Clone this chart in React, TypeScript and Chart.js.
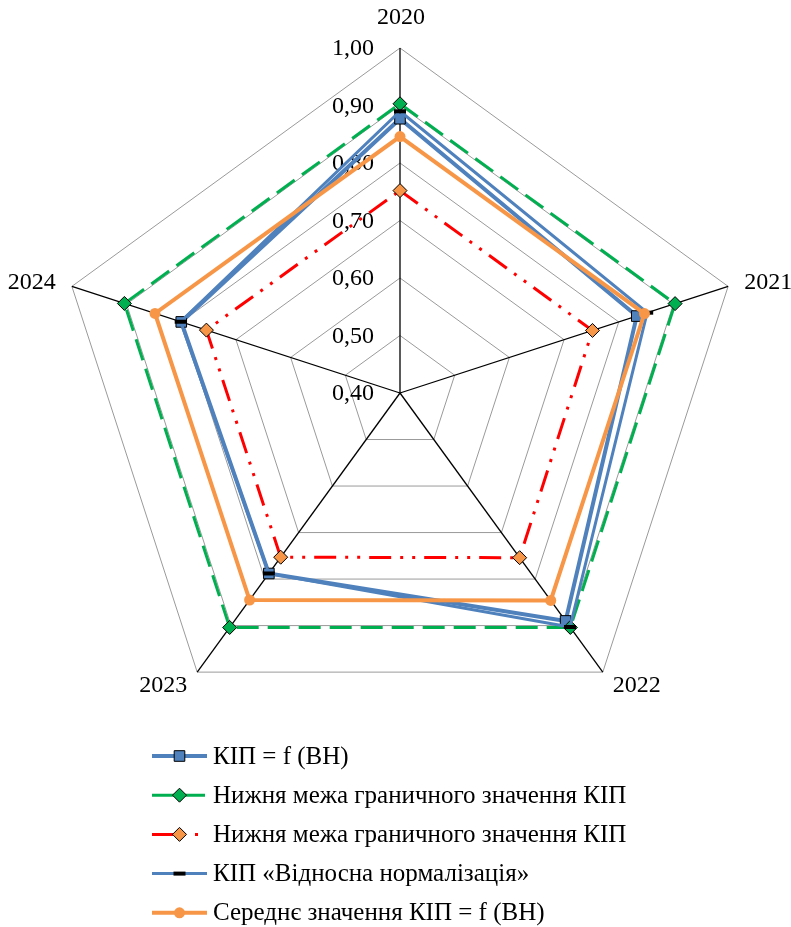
import React, { useEffect, useRef } from 'react';
import { Chart, registerables } from 'chart.js';

Chart.register(...registerables);

// ---- Data ----
const years = ['2020', '2021', '2022', '2023', '2024'];
const kipBH = [0.877, 0.833, 0.89, 0.788, 0.8];
const lowerLimitGreen = [0.903, 0.903, 0.904, 0.904, 0.904];
const lowerLimitRed = [0.752, 0.752, 0.754, 0.753, 0.754];
const kipNormalization = [0.89, 0.852, 0.903, 0.788, 0.801];
const kipMean = [0.846, 0.847, 0.846, 0.845, 0.848];

const tickValues = [0.4, 0.5, 0.6, 0.7, 0.8, 0.9, 1.0];
const tickLabels = ['0,40', '0,50', '0,60', '0,70', '0,80', '0,90', '1,00'];

const seriesNames = [
  'КІП = f (ВН)',
  'Нижня межа граничного значення КІП',
  'Нижня межа граничного значення КІП',
  'КІП «Відносна нормалізація»',
  'Середнє значення КІП = f (ВН)',
];

const FONT = '"Liberation Serif", "Times New Roman", serif';
const BLUE = '#4F81BD';
const GREEN = '#00B050';
const RED = '#FF0000';
const ORANGE = '#F79646';

type Style = {
  color: string;
  width: number;
  dash: number[];
  pointStyle: any;
  radius: number;
  pointFill: string;
  pointBorder: string;
  pointBorderWidth: number;
};

const styles: Style[] = [
  { color: BLUE, width: 4, dash: [], pointStyle: 'rect', radius: 7.5, pointFill: BLUE, pointBorder: '#000', pointBorderWidth: 1 },
  { color: GREEN, width: 3, dash: [22, 9], pointStyle: 'rectRot', radius: 7, pointFill: GREEN, pointBorder: '#000', pointBorderWidth: 1 },
  { color: RED, width: 3, dash: [22, 9, 3, 9, 3, 9], pointStyle: 'rectRot', radius: 7, pointFill: ORANGE, pointBorder: '#000', pointBorderWidth: 1 },
  { color: BLUE, width: 3, dash: [], pointStyle: 'line', radius: 6, pointFill: '#000', pointBorder: '#000', pointBorderWidth: 4 },
  { color: ORANGE, width: 4, dash: [], pointStyle: 'circle', radius: 5.5, pointFill: ORANGE, pointBorder: ORANGE, pointBorderWidth: 0 },
];

const seriesData = [kipBH, lowerLimitGreen, lowerLimitRed, kipNormalization, kipMean];

function drawMarker(ctx: CanvasRenderingContext2D, st: Style, x: number, y: number) {
  ctx.save();
  ctx.setLineDash([]);
  ctx.beginPath();
  const r = st.radius;
  if (st.pointStyle === 'rect') {
    const s = r * Math.SQRT1_2;
    ctx.rect(x - s, y - s, 2 * s, 2 * s);
  } else if (st.pointStyle === 'rectRot') {
    ctx.moveTo(x, y - r);
    ctx.lineTo(x + r, y);
    ctx.lineTo(x, y + r);
    ctx.lineTo(x - r, y);
    ctx.closePath();
  } else if (st.pointStyle === 'circle') {
    ctx.arc(x, y, r, 0, Math.PI * 2);
  } else if (st.pointStyle === 'line') {
    ctx.moveTo(x - r, y);
    ctx.lineTo(x + r, y);
  }
  ctx.fillStyle = st.pointFill;
  if (st.pointStyle !== 'line') ctx.fill();
  if (st.pointBorderWidth > 0) {
    ctx.strokeStyle = st.pointBorder;
    ctx.lineWidth = st.pointBorderWidth;
    ctx.stroke();
  }
  ctx.restore();
}

const customPlugin = {
  id: 'customRadar',
  afterLayout(chart: any) {
    const s = chart.scales.r;
    s.xCenter = 400;
    s.yCenter = 393;
    s.drawingArea = 345;
  },
  beforeDatasetsDraw(chart: any) {
    const s = chart.scales.r;
    const ctx: CanvasRenderingContext2D = chart.ctx;
    ctx.save();
    ctx.font = `24px ${FONT}`;
    ctx.fillStyle = '#000';
    // tick labels
    ctx.textAlign = 'right';
    ctx.textBaseline = 'middle';
    tickValues.forEach((v, i) => {
      const d = s.getDistanceFromCenterForValue(v);
      ctx.fillText(tickLabels[i], s.xCenter - 26, s.yCenter - d + 1);
    });
    // point (category) labels
    years.forEach((lab, i) => {
      const v = s.getPointPosition(i, s.drawingArea);
      const dx = v.x - s.xCenter;
      if (Math.abs(dx) < 1) {
        ctx.textAlign = 'center';
        ctx.textBaseline = 'middle';
        ctx.fillText(lab, v.x + 1, v.y - 30);
      } else {
        const p = s.getPointPosition(i, s.drawingArea + 17);
        ctx.textAlign = dx > 0 ? 'left' : 'right';
        ctx.textBaseline = 'middle';
        const down = v.y > s.yCenter;
        ctx.fillText(lab, p.x, down ? p.y : p.y + 2);
      }
    });
    ctx.restore();
  },
  afterDraw(chart: any) {
    const ctx: CanvasRenderingContext2D = chart.ctx;
    const x0 = 152;
    const x1 = 207;
    const startY = 756;
    const step = 39.2;
    ctx.save();
    seriesNames.forEach((name, i) => {
      const st = styles[i];
      const y = startY + i * step;
      ctx.save();
      ctx.beginPath();
      ctx.setLineDash(st.dash);
      ctx.lineWidth = st.width;
      ctx.strokeStyle = st.color;
      ctx.moveTo(x0, y);
      ctx.lineTo(x1, y);
      ctx.stroke();
      ctx.restore();
      drawMarker(ctx, st, (x0 + x1) / 2, y);
      ctx.font = `25px ${FONT}`;
      ctx.fillStyle = '#000';
      ctx.textAlign = 'left';
      ctx.textBaseline = 'middle';
      ctx.fillText(name, 213, y + 1);
    });
    ctx.restore();
  },
};

export default function App() {
  const ref = useRef<HTMLCanvasElement | null>(null);

  useEffect(() => {
    if (!ref.current) return;
    const n = seriesNames.length;
    const chart = new Chart(ref.current, {
      type: 'radar',
      data: {
        labels: years,
        datasets: seriesNames.map((name, i) => {
          const st = styles[i];
          return {
            label: name,
            data: seriesData[i],
            order: n - i,
            borderColor: st.color,
            borderWidth: st.width,
            borderDash: st.dash,
            backgroundColor: 'rgba(0,0,0,0)',
            fill: false,
            tension: 0,
            pointStyle: st.pointStyle,
            pointRadius: st.radius,
            pointBackgroundColor: st.pointFill,
            pointBorderColor: st.pointBorder,
            pointBorderWidth: st.pointBorderWidth,
          } as any;
        }),
      },
      options: {
        responsive: false,
        animation: false,
        plugins: {
          legend: { display: false },
          tooltip: { enabled: false },
        },
        scales: {
          r: {
            min: 0.4,
            max: 1.0,
            beginAtZero: false,
            ticks: { display: false, stepSize: 0.1 },
            pointLabels: { display: false },
            grid: { color: '#9A9A9A', lineWidth: 1, circular: false },
            angleLines: { display: true, color: '#000', lineWidth: 1.3 },
          },
        },
      },
      plugins: [customPlugin],
    });
    return () => chart.destroy();
  }, []);

  return (
    <div style={{ position: 'fixed', left: 0, top: 0, width: 791, height: 927, background: '#fff' }}>
      <canvas ref={ref} width={791} height={927} style={{ display: 'block' }} />
    </div>
  );
}
